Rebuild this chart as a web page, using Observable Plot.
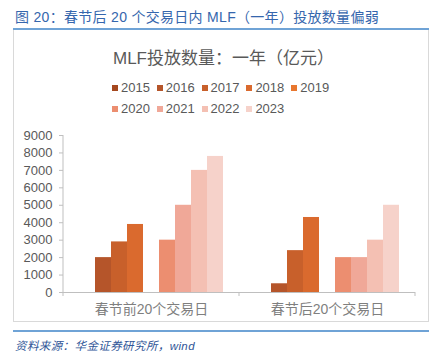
<!DOCTYPE html>
<html>
<head>
<meta charset="utf-8">
<script src="https://cdn.jsdelivr.net/npm/d3@7"></script>
<script src="https://cdn.jsdelivr.net/npm/@observablehq/plot@0.6"></script>
<style>
  html, body { margin: 0; padding: 0; background: #fff; }
  body { width: 441px; height: 358px; position: relative; overflow: hidden;
         font-family: "Liberation Sans", "Noto Sans CJK SC", sans-serif; }
  .abs { position: absolute; white-space: nowrap; }
  #header { left: 15px; top: 6px; font-size: 14px; color: #3566AD; letter-spacing: 0.3px; }
  #topline { left: 13px; top: 28px; width: 416px; height: 2px; background: #6FA3D6; }
  #frame { left: 13px; top: 30px; width: 416px; height: 292px; border: 1px solid #D9D9D9; border-top: none; box-sizing: border-box; }
  #ctitle { left: 113px; top: 44px; font-size: 17px; color: #595959; }
  .leg { font-size: 13px; color: #595959; display: flex; align-items: center; }
  .sw { width: 6px; height: 6px; margin-right: 3px; display: inline-block; }
  #botline { left: 13px; top: 330px; width: 416px; height: 1.5px; background: #6FA3D6; }
  #caption { left: 15px; top: 337px; font-size: 11.5px; color: #2F5597; font-style: italic; letter-spacing: 0.4px; }
  #plot { left: 0; top: 0; }
</style>
</head>
<body>
<div id="frame" class="abs"></div>
<div id="plot" class="abs"></div>
<div id="header" class="abs">图 20：春节后 20 个交易日内 MLF（一年）投放数量偏弱</div>
<div id="topline" class="abs"></div>
<div id="ctitle" class="abs">MLF投放数量：一年（亿元）</div>
<div id="legend"></div>
<div id="botline" class="abs"></div>
<div id="caption" class="abs">资料来源：华金证券研究所，wind</div>
<script>
// ---- data ----
const categories = ["春节前20个交易日", "春节后20个交易日"];
const years = ["2015", "2016", "2017", "2018", "2019", "2020", "2021", "2022", "2023"];
const beforeValues = [null, 2000, 2900, 3900, null, 3000, 5000, 7000, 7800];
const afterValues  = [null, 500, 2400, 4300, null, 2000, 2000, 3000, 5000];
const yTicks = [0, 1000, 2000, 3000, 4000, 5000, 6000, 7000, 8000, 9000];
const colors = ["#A5481F", "#B5552A", "#C8602B", "#DA6A2E", "#E8772F", "#EC8E70", "#F0A898", "#F4C0B3", "#F6D2CA"];

const data = [];
[beforeValues, afterValues].forEach((vals, ci) => {
  vals.forEach((v, yi) => {
    if (v != null) data.push({cat: categories[ci], year: years[yi], value: v});
  });
});

// ---- legend (HTML) ----
const legend = document.getElementById("legend");
years.forEach((yr, i) => {
  const row = i < 5 ? 0 : 1;
  const col = i < 5 ? i : i - 5;
  const d = document.createElement("div");
  d.className = "abs leg";
  d.style.left = (112 + col * 44.8) + "px";
  d.style.top = (row === 0 ? 80 : 101) + "px";
  d.innerHTML = `<span class="sw" style="background:${colors[i]}"></span>${yr}`;
  legend.appendChild(d);
});

// ---- chart ----
const axisColor = "#BFBFBF";
const chart = Plot.plot({
  width: 441,
  height: 358,
  marginLeft: 63,
  marginRight: 26,
  marginTop: 135,
  marginBottom: 66,
  style: {fontFamily: "Liberation Sans, Noto Sans CJK SC, sans-serif", background: "transparent", overflow: "visible"},
  fx: {domain: categories, padding: 0, label: null},
  x: {domain: years, paddingInner: 0, paddingOuter: 0.74, axis: null},
  y: {domain: [0, 9000], label: null},
  color: {domain: years, range: colors},
  marks: [
    Plot.barY(data, {fx: "cat", x: "year", y: "value", fill: "year", inset: 0}),
    Plot.ruleY([0], {stroke: axisColor, strokeWidth: 1}),
    Plot.axisY({ticks: yTicks, tickFormat: d => String(d), tickSize: 4, tickPadding: 7,
                fontSize: 13, fill: "#595959", stroke: axisColor, label: null}),
    Plot.axisFx({anchor: "bottom", tickSize: 0, tickPadding: 12, fontSize: 14, fill: "#7F7F7F", label: null})
  ]
});

// axis line and category boundary ticks through the rendered scales
const fx = chart.scale("fx");
const ys = chart.scale("y");
const svg = d3.select(chart);
const y0 = ys.apply(0), yTop = ys.apply(9000);
const left = fx.apply(categories[0]);
const g = svg.append("g").attr("stroke", axisColor).attr("stroke-width", 1);
g.append("line").attr("x1", left).attr("x2", left).attr("y1", yTop).attr("y2", y0);
const edges = [left];
categories.forEach(c => edges.push(fx.apply(c) + fx.bandwidth));
edges.forEach(x => g.append("line").attr("x1", x).attr("x2", x).attr("y1", y0).attr("y2", y0 + 4));

document.getElementById("plot").appendChild(chart);
</script>
</body>
</html>
